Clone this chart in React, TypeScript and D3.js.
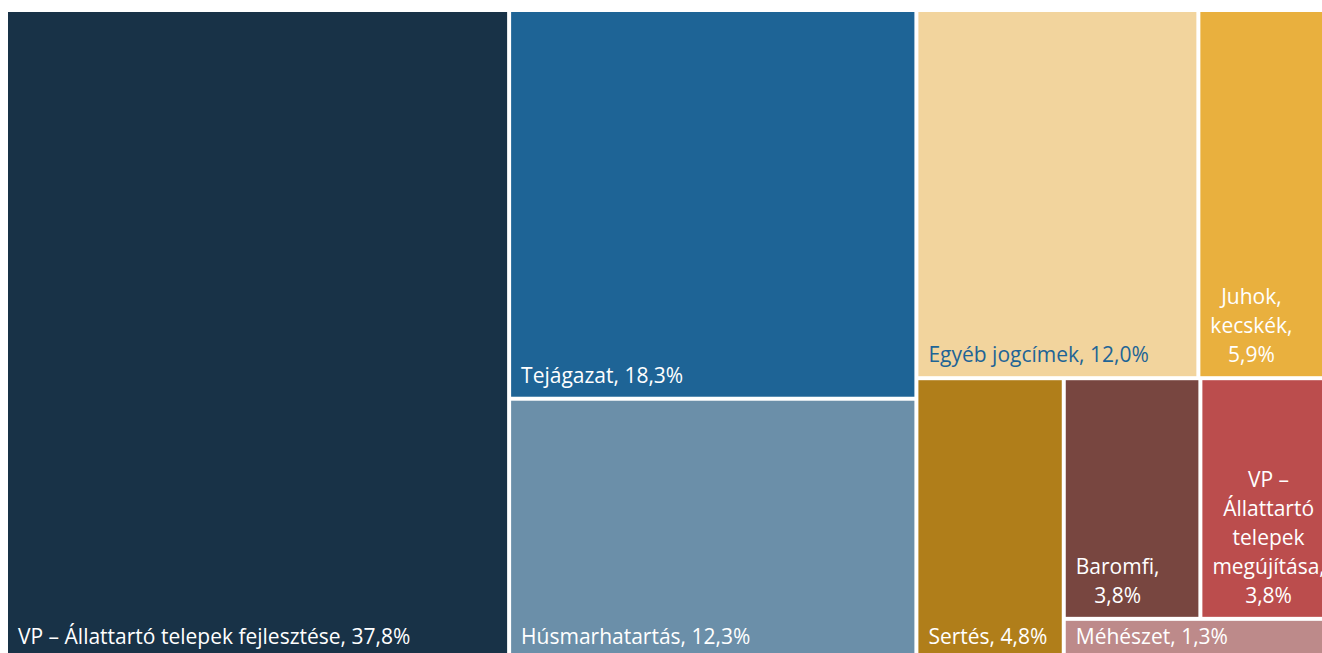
import React, { useEffect, useRef } from "react";
import * as d3 from "d3";

const labels = [
  "VP – Állattartó telepek fejlesztése",
  "Tejágazat",
  "Húsmarhatartás",
  "Egyéb jogcímek",
  "Juhok, kecskék",
  "Sertés",
  "Baromfi",
  "VP – Állattartó telepek megújítása",
  "Méhészet",
];
const values = [37.8, 18.3, 12.3, 12.0, 5.9, 4.8, 3.8, 3.8, 1.3];
const colors = [
  "#183247",
  "#1e6496",
  "#6b8fa9",
  "#f2d49d",
  "#e9b03e",
  "#b07e1a",
  "#784640",
  "#bb4d4d",
  "#bd8a8a",
];
const textColors = ["#fff", "#fff", "#fff", "#1e6496", "#fff", "#fff", "#fff", "#fff", "#fff"];
// how the tiles are nested in the original layout (indexes into the arrays above)
const groups: any[] = [0, [1, 2], [[3, 4], [5, [[6, 7], 8]]]];

const W = 1322;
const H = 653;
const FONT = "'Open Sans', sans-serif";
const FONT_SIZE = 21;
const LINE_H = 29;

type Item = { i?: number; children?: Item[] };
const toNode = (g: any): Item =>
  typeof g === "number" ? { i: g } : { children: g.map(toNode) };

const fmt = (v: number) => d3.format(".1f")(v).replace(".", ",") + "%";

export default function App() {
  const ref = useRef<SVGSVGElement>(null);

  useEffect(() => {
    const svg = d3.select(ref.current);
    svg.selectAll("*").remove();

    const root = d3
      .hierarchy<Item>(toNode(groups))
      .sum((d) => (d.i !== undefined ? values[d.i] : 0));

    // cut across the longer side at every level
    const tile = (node: any, x0: number, y0: number, x1: number, y1: number) =>
      (x1 - x0 >= y1 - y0 ? d3.treemapDice : d3.treemapSlice)(node, x0, y0, x1, y1);

    d3.treemap<Item>().tile(tile).size([1327, 646]).paddingInner(4)(root);

    const g = svg.append("g").attr("transform", "translate(8,12)");

    const leaves = g
      .selectAll("g.leaf")
      .data(root.leaves() as any[])
      .join("g")
      .attr("class", "leaf");

    leaves
      .append("rect")
      .attr("x", (d) => d.x0)
      .attr("y", (d) => d.y0)
      .attr("width", (d) => d.x1 - d.x0)
      .attr("height", (d) => d.y1 - d.y0)
      .attr("fill", (d) => colors[d.data.i]);

    const measure = g
      .append("text")
      .attr("font-family", FONT)
      .attr("font-size", FONT_SIZE)
      .attr("visibility", "hidden");
    const textW = (s: string) => {
      measure.text(s);
      return (measure.node() as SVGTextElement).getComputedTextLength();
    };

    leaves.each(function (d: any) {
      const i = d.data.i;
      const words = `${labels[i]}, ${fmt(values[i])}`.split(" ");
      const maxW = d.x1 - d.x0 - 20;
      const lines: string[] = [];
      let cur = "";
      words.forEach((w) => {
        const test = cur ? cur + " " + w : w;
        if (cur && textW(test) > maxW) {
          lines.push(cur);
          cur = w;
        } else cur = test;
      });
      lines.push(cur);
      const boxW = d3.max(lines, textW) as number;
      const cx = d.x0 + 10 + boxW / 2;
      const last = d.y1 - 14;
      const t = d3
        .select(this)
        .append("text")
        .attr("font-family", FONT)
        .attr("font-size", FONT_SIZE)
        .attr("fill", textColors[i])
        .attr("text-anchor", "middle");
      lines.forEach((l, k) => {
        t.append("tspan")
          .attr("x", cx)
          .attr("y", last - (lines.length - 1 - k) * LINE_H)
          .text(l);
      });
    });

    measure.remove();
  }, []);

  return (
    <div style={{ position: "fixed", left: 0, top: 0, width: W, height: H, overflow: "hidden", background: "#fff" }}>
      <svg ref={ref} width={W} height={H} style={{ display: "block" }} />
    </div>
  );
}
